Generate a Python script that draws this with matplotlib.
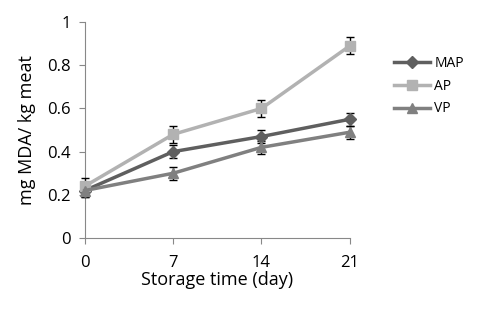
import matplotlib.pyplot as plt
from matplotlib.lines import Line2D

days = [0, 7, 14, 21]
map_vals = [0.22, 0.40, 0.47, 0.55]
map_err = [0.03, 0.03, 0.03, 0.03]
ap_vals = [0.24, 0.48, 0.60, 0.89]
ap_err = [0.04, 0.04, 0.04, 0.04]
vp_vals = [0.22, 0.30, 0.42, 0.49]
vp_err = [0.03, 0.03, 0.03, 0.03]

plt.rcParams['font.family'] = ['Open Sans', 'DejaVu Sans']

fig = plt.figure(figsize=(4.9, 3.1), dpi=100)
ax = fig.add_axes([0.173, 0.232, 0.541, 0.697])

series = [
    ('MAP', map_vals, map_err, '#5f5f5f', 'D', 6),
    ('AP', ap_vals, ap_err, '#b2b2b2', 's', 7),
    ('VP', vp_vals, vp_err, '#808080', '^', 7),
]
handles = []
for name, vals, err, col, mk, ms in series:
    ax.errorbar(days, vals, yerr=err, color=col, lw=2.5, marker=mk, ms=ms,
                ecolor='black', elinewidth=1, capsize=3, capthick=1,
                clip_on=False, zorder=3)
    handles.append(Line2D([], [], color=col, lw=2.5, marker=mk, ms=ms, label=name))

ax.set_xlim(0, 21)
ax.set_ylim(0, 1)
ax.set_xticks(days)
ax.set_yticks([0, 0.2, 0.4, 0.6, 0.8, 1])
ax.set_yticklabels(['0', '0.2', '0.4', '0.6', '0.8', '1'])
for s in ['top', 'right']:
    ax.spines[s].set_visible(False)
for s in ['left', 'bottom']:
    ax.spines[s].set_color('#888888')
ax.tick_params(colors='#888888', labelcolor='black', labelsize=12, length=4)
ax.tick_params(axis='x', pad=8)
ax.tick_params(axis='y', pad=6)
ax.set_xlabel('Storage time (day)', fontsize=13, labelpad=0)
ax.set_ylabel('mg MDA/ kg meat', fontsize=13, labelpad=8)

ax.legend(handles=handles, loc='upper left', bbox_to_anchor=(1.12, 0.9),
          frameon=False, fontsize=10, handlelength=2.6, labelspacing=0.55,
          handletextpad=0.3)

fig.savefig('out.png', dpi=100)
